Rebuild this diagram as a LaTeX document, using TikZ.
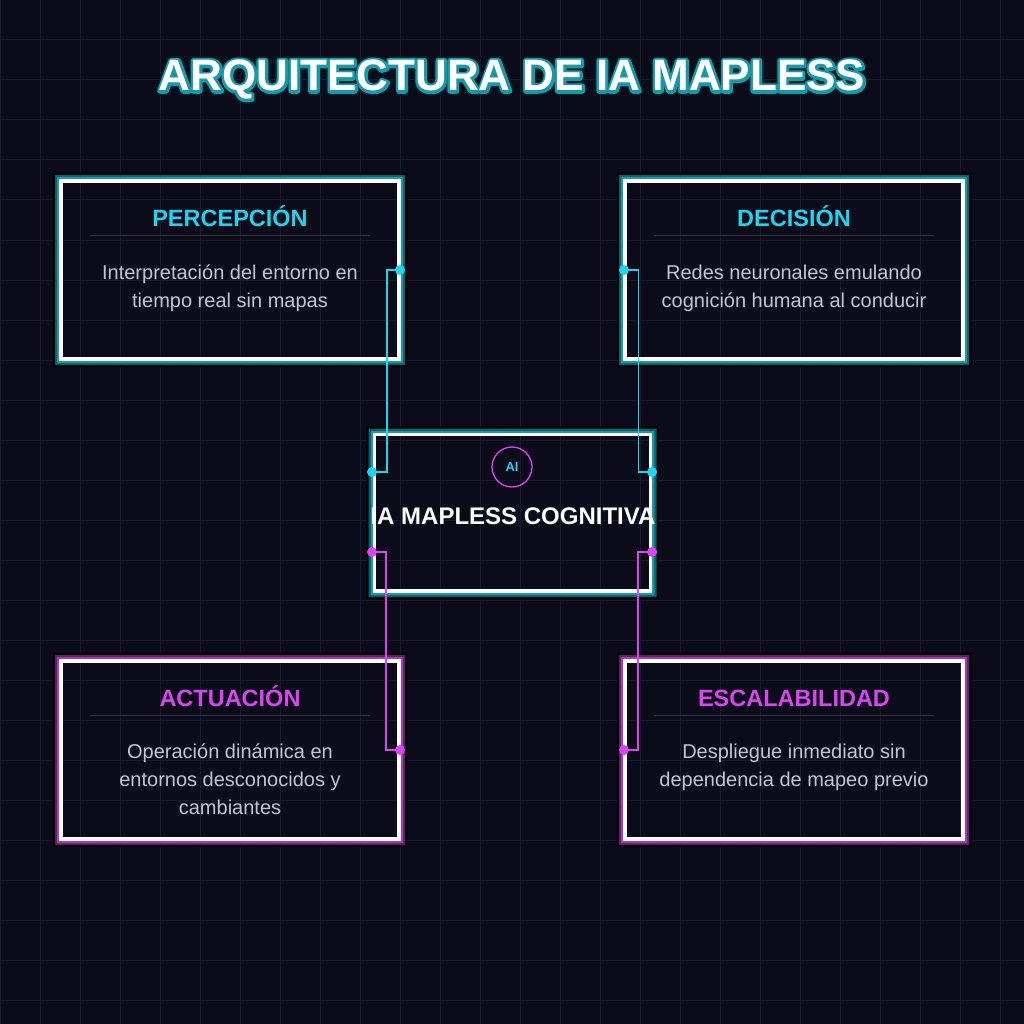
\documentclass[tikz,border=0pt]{standalone}
\usepackage{fontspec}
\setmainfont{Liberation Sans}
\usetikzlibrary{calc}
\definecolor{bg}{HTML}{0B0B1A}
\definecolor{gridc}{HTML}{1A1A2E}
\definecolor{cyanc}{HTML}{22D3EE}
\definecolor{magc}{HTML}{D946EF}
\definecolor{tealA}{HTML}{1A9AA8}
\definecolor{tealB}{HTML}{0E5F68}
\definecolor{magA}{HTML}{A63CB8}
\definecolor{magB}{HTML}{5E1F6C}
\definecolor{desc}{HTML}{C4C4D4}
\definecolor{sepc}{HTML}{2E2E40}
\tikzset{
  boxtitle/.style={font=\bfseries\fontsize{23.5}{28}\selectfont, anchor=base, inner sep=0},
  boxdesc/.style={font=\fontsize{20}{28}\selectfont, text=desc, align=center, anchor=north, inner sep=0},
  wire/.style={line width=1.6pt},
  dotc/.style={circle, inner sep=0, minimum size=10pt},
  sepline/.style={sepc, line width=1pt},
}
\newcommand{\glowbox}[6]{% x1 y1 x2 y2 colA colB
  \fill[black, even odd rule] (#1-8,#2-8) rectangle (#3+8,#4+8) (#1-6,#2-6) rectangle (#3+6,#4+6);
  \fill[#6, even odd rule] (#1-6,#2-6) rectangle (#3+6,#4+6) (#1-4,#2-4) rectangle (#3+4,#4+4);
  \fill[#5, even odd rule] (#1-4,#2-4) rectangle (#3+4,#4+4) (#1-1.5,#2-1.5) rectangle (#3+1.5,#4+1.5);
  \draw[white, line width=3.5pt] (#1,#2) rectangle (#3,#4);
}
\newcommand{\titletext}{ARQUITECTURA DE IA MAPLESS}
\begin{document}
\begin{tikzpicture}[x=1pt,y=-1pt]
\fill[bg] (0,0) rectangle (1024,1024);
\useasboundingbox (0,0) rectangle (1024,1024);
\foreach \gx in {0,40,...,1000} \draw[gridc, line width=1pt] (\gx,0) -- (\gx,1024);
\foreach \gy in {0,40,...,1000} \draw[gridc, line width=1pt] (0,\gy) -- (1024,\gy);

% title with glow outline (stroked text underneath)
\node[text=white, font=\bfseries\fontsize{44}{50}\selectfont, anchor=base] (title) at (512,91)
  {\rlap{\special{pdf:literal direct 1 j 1 Tr 8.5 w 0 0.12 0.15 RG}\titletext}\rlap{\special{pdf:literal direct 1 j 1 Tr 5.5 w 0.10 0.60 0.66 RG}\titletext}\special{pdf:literal direct 0 Tr}\titletext};

% boxes
\glowbox{61}{181}{399}{359}{tealA}{tealB}
\glowbox{625}{181}{963}{359}{tealA}{tealB}
\glowbox{374.5}{434.5}{650.5}{591}{tealA}{tealB}
\glowbox{61}{661}{399}{839}{magA}{magB}
\glowbox{625}{661}{963}{839}{magA}{magB}

% Percepcion
\node[boxtitle, text=cyanc] (tp) at (230,226.5) {PERCEPCIÓN};
\draw[sepline] (90,235) -- (370,235);
\node[boxdesc] (dp) at (230,265) {Interpretación del entorno en\\tiempo real sin mapas};
% Decision
\node[boxtitle, text=cyanc] (td) at (794,226.5) {DECISIÓN};
\draw[sepline] (654,235) -- (934,235);
\node[boxdesc] (dd) at (794,265) {Redes neuronales emulando\\cognición humana al conducir};
% Actuacion
\node[boxtitle, text=magc] (ta) at (230,706.5) {ACTUACIÓN};
\draw[sepline] (90,715) -- (370,715);
\node[boxdesc] (da) at (230,744) {Operación dinámica en\\entornos desconocidos y\\cambiantes};
% Escalabilidad
\node[boxtitle, text=magc] (te) at (794,706.5) {ESCALABILIDAD};
\draw[sepline] (654,715) -- (934,715);
\node[boxdesc] (de) at (794,744) {Despliegue inmediato sin\\dependencia de mapeo previo};

% center
\node[circle, draw=magc, line width=1.3pt, minimum size=40pt, inner sep=0, text=cyanc, font=\bfseries\fontsize{13}{15}\selectfont] (ai) at (512,467) {AI};
\node[text=white, font=\bfseries\fontsize{24}{28}\selectfont, inner sep=0] (core) at (513,516) {IA MAPLESS COGNITIVA};

% connector endpoints
\node[dotc, fill=cyanc] (p1) at (400,270) {};
\node[dotc, fill=cyanc] (c1) at (372,472) {};
\node[dotc, fill=cyanc] (p2) at (624,270) {};
\node[dotc, fill=cyanc] (c2) at (652,472) {};
\node[dotc, fill=magc] (c3) at (372,552) {};
\node[dotc, fill=magc] (p3) at (400,750) {};
\node[dotc, fill=magc] (c4) at (652,552) {};
\node[dotc, fill=magc] (p4) at (624,750) {};

\draw[wire, cyanc] (p1.center) -- (387,270) -- (387,472) -- (c1.center);
\draw[wire, cyanc] (p2.center) -- (638.5,270) -- (638.5,472) -- (c2.center);
\draw[wire, magc] (c3.center) -- (386,552) -- (386,750) -- (p3.center);
\draw[wire, magc] (c4.center) -- (638,552) -- (638,750) -- (p4.center);
\end{tikzpicture}
\end{document}
